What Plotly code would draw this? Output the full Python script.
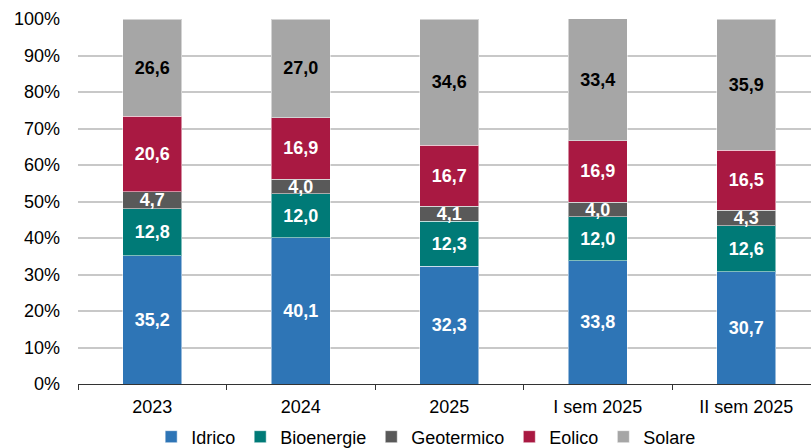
import plotly.graph_objects as go

categories = ["2023", "2024", "2025", "I sem 2025", "II sem 2025"]
idrico = [35.2, 40.1, 32.3, 33.8, 30.7]
bioenergie = [12.8, 12.0, 12.3, 12.0, 12.6]
geotermico = [4.7, 4.0, 4.1, 4.0, 4.3]
eolico = [20.6, 16.9, 16.7, 16.9, 16.5]
solare = [26.6, 27.0, 34.6, 33.4, 35.9]

series = [
    ("Idrico", idrico, "#2E75B6", "white"),
    ("Bioenergie", bioenergie, "#007A77", "white"),
    ("Geotermico", geotermico, "#595959", "white"),
    ("Eolico", eolico, "#A91942", "white"),
    ("Solare", solare, "#A6A6A6", "black"),
]

fig = go.Figure()
for name, vals, col, tcol in series:
    fig.add_trace(go.Bar(
        x=categories, y=vals, name=name,
        marker=dict(color=col, line=dict(color="rgba(255,255,255,0.5)", width=1)),
        texttemplate="%{y:.1f}", textposition="inside", insidetextanchor="middle",
        constraintext="none",
        textfont=dict(family="Liberation Sans, Arial", size=18, color=tcol, weight="bold"),
        hoverinfo="skip",
    ))

fig.update_layout(
    barmode="stack",
    bargap=0.6,
    width=811, height=448,
    margin=dict(l=78, r=0, t=19, b=64),
    paper_bgcolor="white", plot_bgcolor="white",
    separators=",.",
    font=dict(family="Liberation Sans, Arial", size=18, color="black"),
    xaxis=dict(
        range=[-0.5, 4.436],
        showline=True, linecolor="#333333", linewidth=1,
        ticks="outside", tickson="boundaries", ticklen=5, tickcolor="#333333",
        tickfont=dict(size=18, color="black"),
        ticklabelstandoff=6,
        showgrid=False,
    ),
    yaxis=dict(
        range=[0, 100], dtick=10, ticksuffix="%",
        showgrid=True, gridcolor="#C8C8C8", gridwidth=1.5,
        showline=False, zeroline=False,
        ticklabelstandoff=17,
        tickfont=dict(size=18, color="black"),
    ),
    legend=dict(
        orientation="h", x=0.475, xanchor="center",
        yref="container", y=0.0246, yanchor="middle",
        font=dict(size=18, color="black"), traceorder="normal",
        itemwidth=30, tracegroupgap=0,
    ),
)

fig.write_html("out.html", config={"displayModeBar": False},
               post_script="document.body.style.margin='0';")
